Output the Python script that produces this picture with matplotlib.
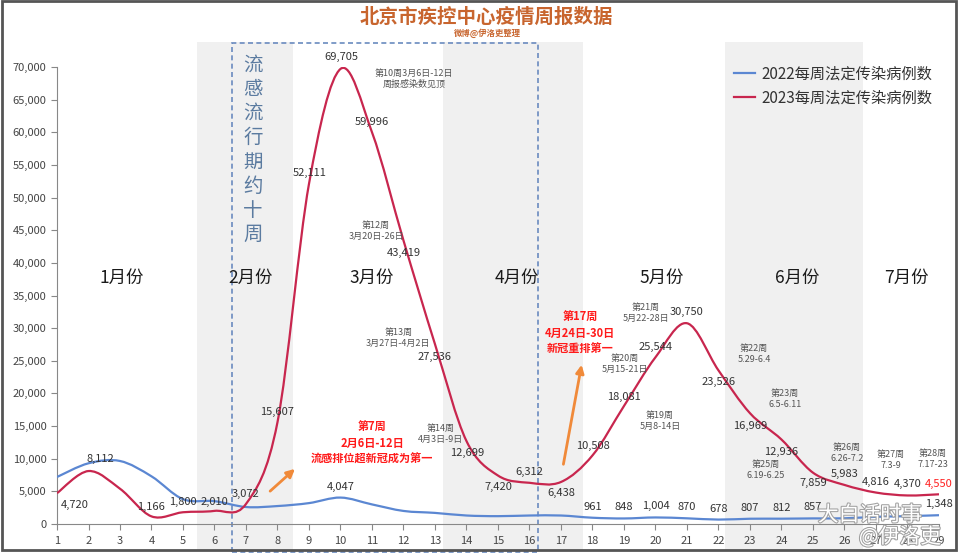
import matplotlib
matplotlib.use("Agg")
import matplotlib.pyplot as plt
from matplotlib.path import Path
from matplotlib.patches import PathPatch, Rectangle
from matplotlib.lines import Line2D
import matplotlib.patheffects as pe

plt.rcParams['font.family'] = ['Noto Sans CJK SC', 'DejaVu Sans']

# data
weeks = list(range(1, 30))
cases_2022 = [7200, 9300, 9650, 7300, 3800, 3500, 2600, 2750, 3200, 4047,
              3000, 2000, 1700, 1300, 1200, 1300, 1300, 961, 848, 1004,
              870, 678, 807, 812, 857, 872, 1100, 1200, 1348]
cases_2023 = [4720, 8112, 5400, 1166, 1800, 2010, 3072, 15607, 52111, 69705,
              59996, 43419, 27536, 12699, 7420, 6312, 6438, 10508, 18081, 25544,
              30750, 23526, 16969, 12936, 7859, 5983, 4816, 4370, 4550]
label_weeks_2022 = [10, 18, 19, 20, 21, 22, 23, 24, 25, 29]
months = ['1月份', '2月份', '3月份', '4月份', '5月份', '6月份', '7月份']
month_x = [3.06, 7.13, 11.0, 15.6, 20.21, 24.49, 27.98]

notes = ['第10周3月6日-12日\n周报感染数见顶', '第12周\n3月20日-26日', '第13周\n3月27日-4月2日',
         '第14周\n4月3日-9日', '第19周\n5月8-14日', '第20周\n5月15-21日', '第21周\n5月22-28日',
         '第22周\n5.29-6.4', '第23周\n6.5-6.11', '第25周\n6.19-6.25', '第26周\n6.26-7.2',
         '第27周\n7.3-9', '第28周\n7.17-23']
note_xy = [(12.33, 68150), (11.13, 44877), (11.83, 28488), (13.19, 13785), (20.14, 15776),
           (19.03, 24506), (19.70, 32317), (23.13, 26038), (24.11, 19145), (23.51, 8271),
           (26.08, 10875), (27.48, 9802), (28.81, 9956)]

# label offsets in pixels (dx, dy) for 2023 labels; None = no label
off_2023 = [(18, -12), (12, 12), None, (0, 9), (0, 10), (0, 9), (0, 10), (0, 10), (1, 11), (1, 12),
            (0, 10), (0, -12), (0, -13), (1, -12), (0, -11), (0, 11), (0, -11), (0, 9), (0, 9), (0, 10),
            (0, 11), (0, -12), (0, -13), (0, -12), (0, -10), (0, 11), (0, 11), (0, 11), (0, 10)]

RED = '#c8264e'
BLUE = '#5b87d2'


def smooth_path(xs, ys):
    # Catmull-Rom style cubic bezier through the points
    verts = [(xs[0], ys[0])]
    codes = [Path.MOVETO]
    n = len(xs)
    for i in range(n - 1):
        x0, y0 = xs[max(i - 1, 0)], ys[max(i - 1, 0)]
        x1, y1 = xs[i], ys[i]
        x2, y2 = xs[i + 1], ys[i + 1]
        x3, y3 = xs[min(i + 2, n - 1)], ys[min(i + 2, n - 1)]
        c1 = (x1 + (x2 - x0) / 6, y1 + (y2 - y0) / 6)
        c2 = (x2 - (x3 - x1) / 6, y2 - (y3 - y1) / 6)
        verts += [c1, c2, (x2, y2)]
        codes += [Path.CURVE4] * 3
    return Path(verts, codes)


fig = plt.figure(figsize=(9.6, 5.54), dpi=100)
ax = fig.add_axes([57 / 960, 30 / 554, 882 / 960, 457 / 554])
ax.set_xlim(1, 29)
ax.set_ylim(0, 70000)

# shaded month bands and dashed flu-period box
for a, b in [(5.44, 8.49), (13.25, 17.70), (22.21, 26.59)]:
    ax.axvspan(a, b, ymin=-0.057, ymax=1.055, color='#f0f0f0', zorder=0, clip_on=False, lw=0)
trans = ax.get_xaxis_transform()
ax.add_patch(Rectangle((6.56, -0.062), 16.27 - 6.56, 1.114, transform=trans, fill=False,
                       ec='#6a8bbf', ls=(0, (3, 2)), lw=1.2, clip_on=False, zorder=1))

ax.add_patch(PathPatch(smooth_path(weeks, cases_2022), fill=False, ec=BLUE, lw=1.6, zorder=3))
ax.add_patch(PathPatch(smooth_path(weeks, cases_2023), fill=False, ec=RED, lw=1.6, zorder=3))

for w, v, off in zip(weeks, cases_2023, off_2023):
    if off is None:
        continue
    ax.annotate(f'{v:,}', (w, v), xytext=off, textcoords='offset pixels', ha='center',
                va='center', fontsize=8, color=('#ff2020' if w == 29 else '#333333'), zorder=5)
for w in label_weeks_2022:
    v = cases_2022[w - 1]
    ax.annotate(f'{v:,}', (w, v), xytext=(0, 11), textcoords='offset pixels', ha='center',
                va='center', fontsize=8, color='#333333', zorder=5)

for m, x in zip(months, month_x):
    ax.text(x, 37700, m, ha='center', va='center', fontsize=12.5, color='#1a1a1a')

for t, (x, y) in zip(notes, note_xy):
    ax.text(x, y, t, ha='center', va='center', fontsize=6.5, color='#555555', linespacing=1.25)

ax.text(11.0, 12400, '第7周\n2月6日-12日\n流感排位超新冠成为第一', ha='center', va='center',
        fontsize=8, color='#ff1a1a', fontweight='bold', linespacing=1.35)
ax.text(17.6, 29250, '第17周\n4月24日-30日\n新冠重排第一', ha='center', va='center',
        fontsize=8, color='#ff1a1a', fontweight='bold', linespacing=1.35)

ax.text(7.22, 57300, '\n'.join('流感流行期约十周'), ha='center', va='center', fontsize=14,
        color='#5b7ba0', linespacing=1.2, fontweight='light')

arrow = dict(arrowstyle='-|>', color='#f08a3a', lw=2, mutation_scale=12)
ax.annotate('', xy=(8.62, 8730), xytext=(7.70, 4748), arrowprops=arrow)
ax.annotate('', xy=(17.67, 24810), xytext=(17.06, 8730), arrowprops=arrow)

ax.set_xticks(weeks)
ax.set_yticks(range(0, 70001, 5000))
ax.set_yticklabels([f'{v:,}' for v in range(0, 70001, 5000)])
ax.tick_params(axis='both', labelsize=8, colors='#444444', length=4, color='#888888')
ax.tick_params(axis='x', pad=5)
for s in ['top', 'right']:
    ax.spines[s].set_visible(False)
for s in ['left', 'bottom']:
    ax.spines[s].set_color('#888888')

handles = [Line2D([], [], color=BLUE, lw=1.6), Line2D([], [], color=RED, lw=1.6)]
fig.legend(handles, ['2022每周法定传染病例数', '2023每周法定传染病例数'], loc='upper left',
           bbox_to_anchor=(726 / 960, 1 - 58 / 554), frameon=False, fontsize=11,
           handlelength=1.4, handletextpad=0.4, labelspacing=0.45, borderpad=0,
           labelcolor='#333333')

fig.text(0.507, 1 - 17 / 554, '北京市疾控中心疫情周报数据', ha='center', va='center',
         fontsize=14, color='#c8652e', fontweight='bold')
fig.text(0.508, 1 - 33 / 554, '微博@伊洛吏整理', ha='center', va='center', fontsize=6,
         color='#c8652e', fontweight='bold')

# watermark
wm = [pe.withStroke(linewidth=1.5, foreground='#a0a0a0')]
fig.text(870 / 960, 1 - 515 / 554, '大白话时事', ha='center', va='center', fontsize=15,
         color='white', path_effects=wm, zorder=10)
fig.text(900 / 960, 1 - 537 / 554, '@伊洛吏', ha='center', va='center', fontsize=15,
         color='white', path_effects=wm, zorder=10)

fig.patches.append(Rectangle((0.002, 0.008), 0.994, 0.99, transform=fig.transFigure,
                             fill=False, ec='#555555', lw=2))

fig.savefig('out.png', dpi=100)
